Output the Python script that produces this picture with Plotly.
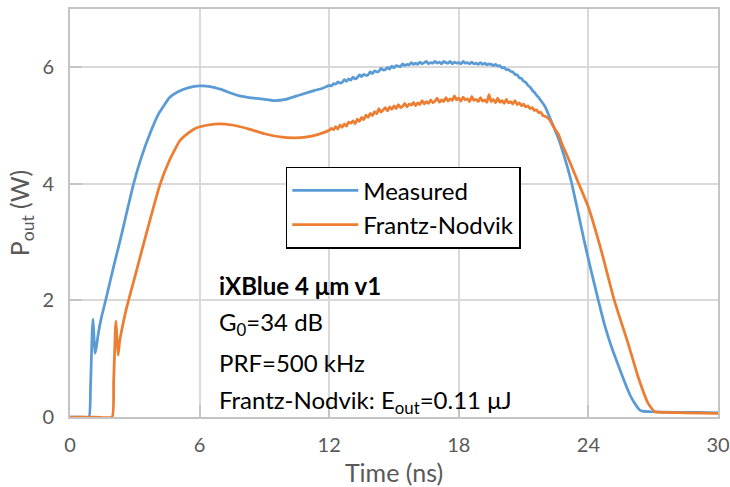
import plotly.graph_objects as go

# Measured output power vs time
t_measured = [0.0, 0.5, 0.88, 0.95, 1.03, 1.07, 1.12, 1.16, 1.22, 1.31, 1.45, 1.65,
              2.0, 2.4, 2.92, 3.3, 3.69, 4.1, 4.61, 5.0, 5.5, 6.0, 6.5, 7.0, 7.5,
              7.85, 8.5, 9.0, 9.4, 10.0, 10.6, 11.3, 11.7,
              12.0, 12.1, 12.2, 12.3, 12.4, 12.5, 12.6, 12.7, 12.8, 12.9,
              13.0, 13.1, 13.2, 13.3, 13.4, 13.5, 13.6, 13.7, 13.8, 13.9,
              14.0, 14.1, 14.2, 14.3, 14.4, 14.5, 14.6, 14.7, 14.8, 14.9,
              15.0, 15.1, 15.2, 15.3, 15.4, 15.5, 15.6, 15.7, 15.8, 15.9,
              16.0, 16.1, 16.2, 16.3, 16.4, 16.5, 16.6, 16.7, 16.8, 16.9,
              17.0, 17.1, 17.2, 17.3, 17.4, 17.5, 17.6, 17.7, 17.8, 17.9,
              18.0, 18.1, 18.2, 18.3, 18.4, 18.5, 18.6, 18.7, 18.8, 18.9,
              19.0, 19.1, 19.2, 19.3, 19.4, 19.5, 19.6, 19.7, 19.8, 19.9,
              20.0, 20.1, 20.2, 20.3, 20.4, 20.5, 20.6, 20.7, 20.8, 20.9,
              21.0, 21.1, 21.2, 21.3, 21.4, 21.5, 21.6, 21.7, 21.8, 21.9,
              22.0, 22.3, 22.6, 22.9, 23.2, 23.5, 23.8, 24.1, 24.46, 24.75,
              25.07, 25.4, 25.7, 25.95, 26.15, 26.35, 26.5, 26.9, 28.0, 29.0, 30.0]
p_measured = [0.0, 0.0, 0.0, 0.5, 1.5, 1.68, 1.3, 1.09, 1.2, 1.43, 1.7, 2.0,
              2.55, 3.15, 3.97, 4.45, 4.85, 5.2, 5.48, 5.58, 5.65, 5.68, 5.67, 5.62, 5.55,
              5.51, 5.47, 5.45, 5.43, 5.45, 5.52, 5.60, 5.64,
              5.69, 5.68, 5.72, 5.71, 5.75, 5.73, 5.74, 5.79, 5.76, 5.80,
              5.78, 5.83, 5.80, 5.82, 5.87, 5.84, 5.88, 5.86, 5.87, 5.92,
              5.89, 5.94, 5.92, 5.93, 5.98, 5.95, 5.96, 6.00, 5.97, 6.02,
              5.99, 6.03, 6.02, 6.01, 6.06, 6.03, 6.05, 6.04, 6.08, 6.05,
              6.07, 6.05, 6.09, 6.06, 6.08, 6.10, 6.06, 6.08, 6.07, 6.10,
              6.07, 6.09, 6.06, 6.10, 6.08, 6.07, 6.10, 6.06, 6.09, 6.07,
              6.08, 6.06, 6.10, 6.07, 6.08, 6.06, 6.09, 6.06, 6.07, 6.05,
              6.08, 6.05, 6.07, 6.04, 6.06, 6.05, 6.03, 6.05, 6.02, 6.03,
              5.99, 6.00, 5.96, 5.96, 5.93, 5.92, 5.88, 5.87, 5.82, 5.81,
              5.76, 5.74, 5.69, 5.66, 5.61, 5.57, 5.52, 5.48, 5.43, 5.38,
              5.32, 5.06, 4.79, 4.45, 4.05, 3.55, 3.03, 2.55, 2.0, 1.58,
              1.2, 0.87, 0.58, 0.36, 0.23, 0.13, 0.10, 0.09, 0.08, 0.08, 0.07]

# Frantz-Nodvik model output power vs time
t_fn = [0.0, 1.0, 1.95, 2.02, 2.1, 2.13, 2.18, 2.23, 2.3, 2.4, 2.61, 3.0, 3.5,
        4.15, 4.6, 5.08, 5.5, 5.85, 6.4, 6.92, 7.5, 8.3, 9.0, 9.83, 10.4, 10.9,
        11.5,
        12.0, 12.1, 12.2, 12.3, 12.4, 12.5, 12.6, 12.7, 12.8, 12.9,
        13.0, 13.1, 13.2, 13.3, 13.4, 13.5, 13.6, 13.7, 13.8, 13.9,
        14.0, 14.1, 14.2, 14.3, 14.4, 14.5, 14.6, 14.7, 14.8, 14.9,
        15.0, 15.1, 15.2, 15.3, 15.4, 15.5, 15.6, 15.7, 15.8, 15.9,
        16.0, 16.1, 16.2, 16.3, 16.4, 16.5, 16.6, 16.7, 16.8, 16.9,
        17.0, 17.1, 17.2, 17.3, 17.4, 17.5, 17.6, 17.7, 17.8, 17.9,
        18.0, 18.1, 18.2, 18.3, 18.4, 18.5, 18.6, 18.7, 18.8, 18.9,
        19.0, 19.1, 19.2, 19.3, 19.4, 19.5, 19.6, 19.7, 19.8, 19.9,
        20.0, 20.1, 20.2, 20.3, 20.4, 20.5, 20.6, 20.7, 20.8, 20.9,
        21.0, 21.1, 21.2, 21.3, 21.4, 21.5, 21.6, 21.7, 21.8, 21.9,
        22.0, 22.2, 22.4, 22.6, 22.8, 23.0, 23.5, 24.0, 24.6, 25.2, 25.84,
        26.3, 26.77, 27.07, 27.5, 28.5, 30.0]
p_fn = [0.0, 0.0, 0.0, 0.6, 1.5, 1.65, 1.3, 1.06, 1.3, 1.5, 1.86, 2.4, 3.1,
        3.97, 4.4, 4.74, 4.88, 4.96, 5.01, 5.03, 5.01, 4.94, 4.86, 4.80, 4.79, 4.80,
        4.85,
        4.92, 4.95, 4.93, 4.98, 4.94, 5.01, 4.97, 5.03, 4.99, 5.06,
        5.04, 5.08, 5.03, 5.11, 5.07, 5.14, 5.10, 5.18, 5.14, 5.21,
        5.17, 5.24, 5.20, 5.29, 5.23, 5.27, 5.31, 5.25, 5.32, 5.28,
        5.34, 5.29, 5.36, 5.31, 5.33, 5.38, 5.32, 5.37, 5.35, 5.40,
        5.34, 5.39, 5.36, 5.43, 5.37, 5.41, 5.38, 5.44, 5.39, 5.42,
        5.47, 5.40, 5.44, 5.41, 5.48, 5.42, 5.46, 5.43, 5.51, 5.44,
        5.47, 5.42, 5.49, 5.44, 5.46, 5.41, 5.50, 5.43, 5.45, 5.41,
        5.48, 5.42, 5.44, 5.40, 5.53, 5.41, 5.45, 5.39, 5.47, 5.40,
        5.43, 5.38, 5.45, 5.39, 5.41, 5.37, 5.43, 5.36, 5.39, 5.34,
        5.37, 5.32, 5.34, 5.29, 5.31, 5.26, 5.27, 5.22, 5.23, 5.17,
        5.16, 5.10, 4.97, 4.86, 4.66, 4.50, 4.05, 3.6, 2.85, 2.0, 1.26,
        0.69, 0.23, 0.09, 0.08, 0.07, 0.06]

x_ticks = [0, 6, 12, 18, 24, 30]
y_ticks = [0, 2, 4, 6]

info_lines = ["<b>iXBlue 4 μm v1</b>",
              "G<sub>0</sub>=34 dB",
              "PRF=500 kHz",
              "Frantz-Nodvik: E<sub>out</sub>=0.11 μJ"]
info_y = [2.25, 1.61, 0.93, 0.26]

FONT = "Lato, 'Open Sans', sans-serif"
BLUE = "#5B9BD5"
ORANGE = "#ED7D31"
GRID = "#D9D9D9"
FRAME = "#C4C4C4"

fig = go.Figure()
fig.add_trace(go.Scatter(x=t_measured, y=p_measured, mode="lines", name="Measured",
                         line=dict(color=BLUE, width=2.75, shape="spline", smoothing=0.4)))
fig.add_trace(go.Scatter(x=t_fn, y=p_fn, mode="lines", name="Frantz-Nodvik",
                         line=dict(color=ORANGE, width=2.75, shape="spline", smoothing=0.4)))

for txt, yy in zip(info_lines, info_y):
    fig.add_annotation(x=6.8, y=yy, xref="x", yref="y", text=txt, showarrow=False,
                       xanchor="left", yanchor="middle",
                       font=dict(family=FONT, size=24, color="#000000"))

fig.update_layout(
    width=730, height=487,
    margin=dict(l=70, r=12, t=9, b=70),
    paper_bgcolor="white", plot_bgcolor="white",
    font=dict(family=FONT, size=20, color="#595959"),
    showlegend=True,
    legend=dict(x=0.333, y=0.613, xanchor="left", yanchor="top",
                bgcolor="white", bordercolor="#000000", borderwidth=1.5,
                font=dict(family=FONT, size=24, color="#000000"),
                itemwidth=66, tracegroupgap=0),
    xaxis=dict(range=[0, 30], tickvals=x_ticks, ticktext=[str(v) for v in x_ticks],
               automargin=False,
               showgrid=True, gridcolor=GRID, gridwidth=1.5,
               showline=True, linecolor=FRAME, linewidth=2, mirror=True,
               ticks="inside", ticklen=12, tickwidth=2, tickcolor=FRAME,
               ticklabelstandoff=9, zeroline=False,
               tickfont=dict(size=20, color="#595959"),
               title=dict(text="Time (ns)", font=dict(size=25, color="#595959"), standoff=10)),
    yaxis=dict(range=[0, 7], tickvals=y_ticks, ticktext=[str(v) for v in y_ticks],
               automargin=False,
               showgrid=True, gridcolor=GRID, gridwidth=1.5,
               showline=True, linecolor=FRAME, linewidth=2, mirror=True,
               ticks="inside", ticklen=12, tickwidth=2, tickcolor=FRAME,
               ticklabelstandoff=10, zeroline=False,
               tickfont=dict(size=20, color="#595959"),
               title=dict(text="P<sub>out</sub> (W)", font=dict(size=25, color="#595959"), standoff=6)),
)

fig.write_html("out.html")
